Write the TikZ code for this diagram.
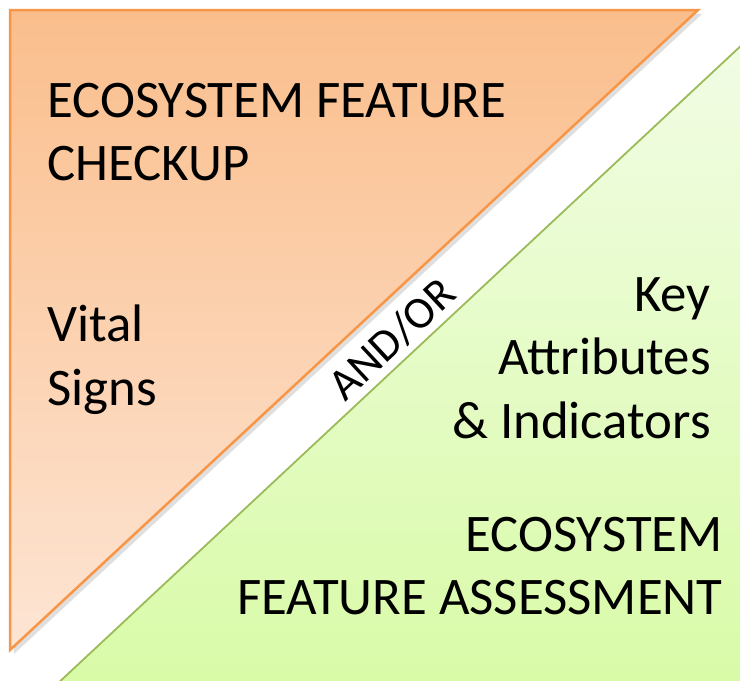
\documentclass[tikz,border=0pt]{standalone}
\usepackage{fontspec}
\setmainfont{Carlito}
\usetikzlibrary{shadows}
\definecolor{orangeline}{RGB}{247,150,70}
\definecolor{orangetop}{RGB}{250,190,140}
\definecolor{orangebot}{RGB}{253,229,212}
\definecolor{greenline}{RGB}{155,187,89}
\definecolor{greentop}{RGB}{242,252,230}
\definecolor{greenbot}{RGB}{216,251,166}

\begin{document}
\begin{tikzpicture}
  [x=1pt, y=-1pt,
   bigtext/.style={font=\fontsize{52.8}{63.5}\selectfont, inner sep=0pt},
   bandtext/.style={font=\fontsize{45}{54}\selectfont, inner sep=0pt, rotate=43}]
  \useasboundingbox (0,0) rectangle (740,681);
  \clip (0,0) rectangle (740,681);

  % lower triangle
  \fill [top color=greentop, bottom color=greenbot]
    (760,28) -- (760,700) -- (40,700) -- cycle;
  \draw [greenline, line width=1.8pt] (760,28) -- (40,700);

  % upper triangle
  \filldraw [draw=orangeline, line width=2.5pt, line join=miter,
             top color=orangetop, bottom color=orangebot,
             drop shadow={shadow xshift=4pt, shadow yshift=-4pt, opacity=0.25}]
    (10,10) -- (698,10) -- (10,650) -- cycle;

  \node [bigtext, anchor=north west, align=left] (checkup) at (47,83)
    {ECOSYSTEM FEATURE\\CHECKUP};
  \node [bigtext, anchor=north west, align=left] (vital) at (47,305)
    {Vital\\Signs};
  \node [bigtext, anchor=north east, align=right] (keyattr) at (711,277)
    {Key\\Attributes\\\& Indicators};
  \node [bigtext, anchor=north east, align=right] (assess) at (723,517)
    {ECOSYSTEM\\FEATURE ASSESSMENT};
  \node [bandtext] (andor) at (392,339) {AND/OR};
\end{tikzpicture}
\end{document}
